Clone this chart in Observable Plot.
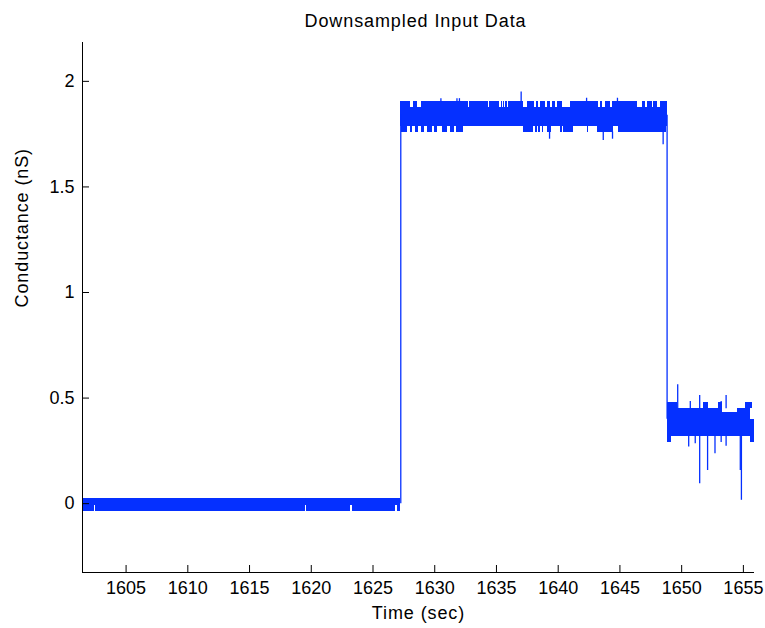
<!DOCTYPE html>
<html>
<head>
<meta charset="utf-8">
<script src="https://cdn.jsdelivr.net/npm/d3@7"></script>
<script src="https://cdn.jsdelivr.net/npm/@observablehq/plot@0.6"></script>
<style>
  html, body { margin: 0; padding: 0; background: #fff; }
</style>
</head>
<body>
<div id="chart"></div>
<script>
// ---- text ----
const title = "Downsampled Input Data";
const xLabel = "Time (sec)";
const yLabel = "Conductance (nS)";

// ---- axes ----
const xDomain = [1601.47, 1655.9];
const yDomain = [-0.326, 2.184];
const xTicks = [1605, 1610, 1615, 1620, 1625, 1630, 1635, 1640, 1645, 1650, 1655];
const xTickLabels = ["1605", "1610", "1615", "1620", "1625", "1630", "1635", "1640", "1645", "1650", "1655"];
const yTicks = [0, 0.5, 1, 1.5, 2];
const yTickLabels = ["0", "0.5", "1", "1.5", "2"];

// ---- step transitions of the trace ----
const stepTime = [1627.25, 1648.82];
const stepFrom = [0.0, 1.84];
const stepTo = [1.84, 0.40];

// ---- noise bands (time start, time end, low, high) ----
const bandT0 = [1601.47, 1627.25, 1627.25, 1627.30, 1637.20, 1648.82, 1653.20, 1654.55, 1655.55, 1648.82, 1651.79, 1653.00, 1655.16, 1648.82];
const bandT1 = [1627.25, 1648.82, 1648.82, 1632.30, 1648.75, 1653.20, 1654.55, 1655.55, 1655.90, 1649.63, 1652.19, 1653.28, 1655.70, 1649.20];
const bandLo = [-0.036, 1.787, 1.878, 1.757, 1.757, 0.318, 0.318, 0.318, 0.290, 0.452, 0.452, 0.433, 0.452, 0.290];
const bandHi = [0.025, 1.878, 1.905, 1.787, 1.787, 0.452, 0.433, 0.452, 0.400, 0.480, 0.480, 0.480, 0.480, 0.318];

// ---- gaps in the noise fringes (time start, time end, low, high) ----
const gapT0 = [1602.45, 1619.50, 1623.20, 1626.85,
  1628.00, 1628.60, 1632.72, 1634.33, 1635.25, 1635.47, 1635.65, 1635.87, 1637.20, 1638.08, 1638.43, 1638.97, 1639.38, 1639.78, 1640.33, 1643.29, 1643.56, 1644.23, 1646.39, 1647.07, 1647.61, 1648.01,
  1627.78, 1628.23, 1628.67, 1629.20, 1629.80, 1630.20, 1631.00, 1631.60, 1638.03, 1638.30, 1638.57, 1638.84, 1639.43, 1640.33, 1641.26, 1642.48, 1644.50, 1645.04, 1645.59, 1646.66, 1647.47];
const gapT1 = [1602.55, 1619.60, 1623.30, 1626.95,
  1628.25, 1628.90, 1632.85, 1634.45, 1635.38, 1635.56, 1635.74, 1635.96, 1637.55, 1638.24, 1638.57, 1639.11, 1639.52, 1639.92, 1641.00, 1643.43, 1643.83, 1644.37, 1646.80, 1647.26, 1647.74, 1648.28,
  1628.05, 1628.45, 1628.94, 1629.40, 1630.01, 1630.61, 1631.28, 1631.80, 1638.17, 1638.43, 1638.71, 1639.11, 1640.18, 1640.46, 1642.35, 1643.16, 1644.90, 1645.31, 1645.85, 1647.07, 1648.01];
const gapLo = [-0.036, -0.036, -0.036, -0.036,
  1.878, 1.878, 1.878, 1.878, 1.878, 1.878, 1.878, 1.878, 1.878, 1.878, 1.878, 1.878, 1.878, 1.878, 1.878, 1.878, 1.878, 1.878, 1.878, 1.878, 1.878, 1.878,
  1.757, 1.757, 1.757, 1.757, 1.757, 1.757, 1.757, 1.757, 1.757, 1.757, 1.757, 1.757, 1.757, 1.757, 1.757, 1.757, 1.757, 1.757, 1.757, 1.757, 1.757];
const gapHi = [-0.008, -0.008, -0.008, -0.008,
  1.905, 1.905, 1.905, 1.905, 1.905, 1.905, 1.905, 1.905, 1.905, 1.905, 1.905, 1.905, 1.905, 1.905, 1.905, 1.905, 1.905, 1.905, 1.905, 1.905, 1.905, 1.905,
  1.787, 1.787, 1.787, 1.787, 1.787, 1.787, 1.787, 1.787, 1.787, 1.787, 1.787, 1.787, 1.787, 1.787, 1.787, 1.787, 1.787];

// ---- isolated spikes (time, from, to) ----
const spikeTime = [1630.50, 1631.80, 1632.00, 1637.00, 1642.30, 1644.80,
  1639.30, 1643.65, 1644.40, 1648.50,
  1649.68, 1650.70, 1651.46, 1653.60, 1653.20,
  1650.57, 1651.10, 1651.46, 1652.10, 1652.70, 1653.20, 1653.60, 1654.75, 1654.84];
const spikeFrom = [1.90, 1.90, 1.90, 1.90, 1.90, 1.90,
  1.76, 1.76, 1.76, 1.76,
  0.45, 0.45, 0.45, 0.45, 0.45,
  0.32, 0.32, 0.32, 0.32, 0.32, 0.32, 0.32, 0.32, 0.32];
const spikeTo = [1.918, 1.918, 1.918, 1.950, 1.920, 1.920,
  1.726, 1.720, 1.726, 1.700,
  0.563, 0.484, 0.512, 0.512, 0.484,
  0.268, 0.284, 0.094, 0.157, 0.236, 0.290, 0.272, 0.157, 0.016];

// ---- build tables ----
const steps = stepTime.map((t, i) => ({t, a: stepFrom[i], b: stepTo[i]}));
const bands = bandT0.map((t0, i) => ({t0, t1: bandT1[i], lo: bandLo[i], hi: bandHi[i]}));
const gaps = gapT0.map((t0, i) => ({t0, t1: gapT1[i], lo: gapLo[i], hi: gapHi[i]}));
const spikes = spikeTime.map((t, i) => ({t, a: spikeFrom[i], b: spikeTo[i]}));

const BLUE = "#0530ff";
const FONT = "'Liberation Sans', Arial, Helvetica, sans-serif";

const chart = Plot.plot({
  width: 765,
  height: 628,
  marginLeft: 82,
  marginRight: 11,
  marginTop: 42,
  marginBottom: 56,
  x: {type: "linear", domain: xDomain},
  y: {type: "linear", domain: yDomain},
  style: {fontFamily: FONT, fontSize: "18px", color: "#000", background: "#fff"},
  marks: [
    Plot.rect(bands, {x1: "t0", x2: "t1", y1: "lo", y2: "hi", fill: BLUE, shapeRendering: "crispEdges"}),
    Plot.rect(gaps, {x1: "t0", x2: "t1", y1: "lo", y2: "hi", fill: "#fff", shapeRendering: "crispEdges"}),
    Plot.ruleX(spikes, {x: "t", y1: "a", y2: "b", stroke: BLUE, strokeWidth: 1.3}),
    Plot.ruleX(steps, {x: "t", y1: "a", y2: "b", stroke: BLUE, strokeWidth: 1.3}),
    // axis lines
    Plot.ruleX([xDomain[0]], {stroke: "#000", strokeWidth: 1}),
    Plot.ruleY([yDomain[0]], {stroke: "#000", strokeWidth: 1}),
    // inward ticks
    Plot.axisX(xTicks, {anchor: "bottom", tickSize: 7, dy: -7, tickFormat: () => "", label: null, stroke: "#000"}),
    Plot.axisY(yTicks, {anchor: "left", tickSize: 7, dx: 7, tickFormat: () => "", label: null, stroke: "#000"}),
    // tick labels
    Plot.axisX(xTicks, {anchor: "bottom", tickSize: 0, tickPadding: 9, tickFormat: (d) => xTickLabels[xTicks.indexOf(d)], label: null, fontSize: 18, fill: "#000"}),
    Plot.axisY(yTicks, {anchor: "left", tickSize: 0, tickPadding: 8, tickFormat: (d) => yTickLabels[yTicks.indexOf(d)], label: null, fontSize: 18, fill: "#000"}),
    // title and axis labels
    Plot.text([title], {frameAnchor: "top", lineAnchor: "bottom", dy: -15.3, dx: -3, fontSize: 18, fill: "#000"}),
    Plot.text([xLabel], {frameAnchor: "bottom", lineAnchor: "bottom", dy: 46, fontSize: 18, fill: "#000"}),
    Plot.text([yLabel], {frameAnchor: "left", rotate: -90, dx: -60.3, fontSize: 18, fill: "#000"})
  ]
});

d3.select(chart).selectAll("g[aria-label='text'] text").style("letter-spacing", "0.9px");
document.getElementById("chart").appendChild(chart);
</script>
</body>
</html>
